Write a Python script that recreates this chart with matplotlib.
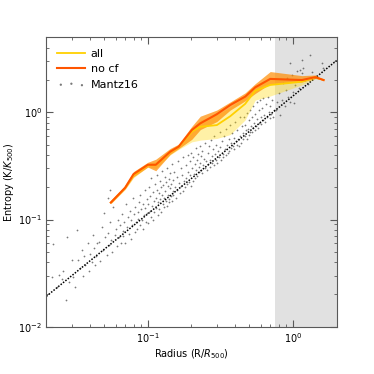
import numpy as np
import matplotlib.pyplot as plt

# binned profiles (R/R500)
r_bins = [0.0556, 0.0698, 0.0797, 0.1, 0.1135, 0.1426, 0.163, 0.201, 0.23, 0.299,
          0.37, 0.469, 0.55, 0.698, 1.153, 1.426, 1.627]

# no cool-front sample
no_cf = [0.144, 0.198, 0.265, 0.324, 0.324, 0.429, 0.478, 0.684, 0.789, 0.96,
         1.17, 1.40, 1.71, 2.05, 2.0, 2.13, 2.0]
no_cf_lo = [0.141, 0.193, 0.250, 0.308, 0.285, 0.405, 0.458, 0.56, 0.69, 0.82,
            1.05, 1.28, 1.50, 1.85, 1.92, 2.07, 2.0]
no_cf_hi = [0.147, 0.203, 0.280, 0.342, 0.365, 0.46, 0.505, 0.74, 0.92, 1.05,
            1.25, 1.52, 1.85, 2.40, 2.2, 2.23, 2.0]

# full sample
all_s = [0.144, 0.198, 0.26, 0.32, 0.324, 0.425, 0.475, 0.66, 0.733, 0.76,
         0.92, 1.20, 1.59, 1.80, 1.93, 2.13, 2.0]
all_lo = [0.14, 0.19, 0.245, 0.31, 0.30, 0.40, 0.45, 0.53, 0.55, 0.57,
          0.62, 0.85, 1.30, 1.42, 1.80, 2.06, 2.0]
all_hi = [0.148, 0.205, 0.272, 0.335, 0.345, 0.45, 0.49, 0.70, 0.85, 0.95,
          1.12, 1.40, 1.75, 2.10, 2.05, 2.18, 2.0]

# Mantz16 individual points
m_r = [0.0218, 0.0223, 0.0236, 0.0245, 0.0256, 0.0262, 0.0273, 0.0276, 0.0285, 0.0298,
       0.0305, 0.0316, 0.0324, 0.0332, 0.0340, 0.0351, 0.0358, 0.0366, 0.0372, 0.0385,
       0.0393, 0.0402, 0.0410, 0.0418, 0.0425, 0.0433, 0.0441, 0.0448,
       0.046, 0.047, 0.048, 0.049, 0.050, 0.051, 0.052, 0.053, 0.053, 0.054, 0.055, 0.055,
       0.056, 0.057, 0.058, 0.059, 0.060, 0.061, 0.062, 0.063, 0.064, 0.065, 0.066, 0.067,
       0.068, 0.069, 0.070, 0.071, 0.072, 0.073, 0.074, 0.075, 0.076, 0.077, 0.078, 0.079,
       0.080, 0.081, 0.082, 0.083, 0.084, 0.085, 0.086, 0.087, 0.088, 0.089, 0.090, 0.091,
       0.092, 0.093, 0.094, 0.095, 0.096, 0.097, 0.098, 0.099,
       0.100, 0.101, 0.102, 0.103, 0.104, 0.105, 0.106, 0.107, 0.108, 0.109, 0.110, 0.111,
       0.112, 0.113, 0.114, 0.115, 0.116, 0.117, 0.118, 0.119, 0.120, 0.121, 0.122, 0.123,
       0.124, 0.125, 0.126, 0.127, 0.128, 0.129, 0.130, 0.131, 0.132, 0.133, 0.134, 0.135,
       0.136, 0.137, 0.138, 0.139, 0.140, 0.141, 0.142, 0.143, 0.144, 0.145, 0.146, 0.147,
       0.148, 0.149, 0.150, 0.152, 0.154, 0.156, 0.158, 0.160, 0.162, 0.164, 0.166, 0.168,
       0.170, 0.172, 0.174, 0.176, 0.178, 0.180, 0.182, 0.184, 0.186, 0.188, 0.190, 0.192,
       0.194, 0.196, 0.198, 0.200,
       0.202, 0.204, 0.206, 0.208, 0.210, 0.212, 0.214, 0.216, 0.218, 0.220, 0.222, 0.224,
       0.226, 0.228, 0.230, 0.232, 0.234, 0.236, 0.238, 0.240, 0.243, 0.246, 0.249, 0.252,
       0.255, 0.258, 0.261, 0.264, 0.267, 0.270, 0.273, 0.276, 0.279, 0.282, 0.285, 0.288,
       0.291, 0.294, 0.297, 0.300, 0.304, 0.308, 0.312, 0.316, 0.320, 0.324, 0.328, 0.332,
       0.336, 0.340, 0.344, 0.348, 0.352, 0.356, 0.360, 0.364, 0.368, 0.372, 0.376, 0.380,
       0.385, 0.390, 0.395, 0.400, 0.405, 0.410, 0.415, 0.420, 0.425, 0.430, 0.435, 0.440,
       0.445, 0.450,
       0.455, 0.460, 0.465, 0.470, 0.475, 0.480, 0.485, 0.490, 0.495, 0.500, 0.505, 0.510,
       0.515, 0.520, 0.525, 0.530, 0.535, 0.540, 0.545, 0.550, 0.556, 0.562, 0.568, 0.574,
       0.580, 0.586, 0.592, 0.598, 0.604, 0.610, 0.618, 0.626, 0.634, 0.642, 0.650, 0.660,
       0.670, 0.680, 0.690, 0.700, 0.710, 0.720, 0.730, 0.740,
       0.76, 0.78, 0.80, 0.82, 0.84, 0.86, 0.88, 0.90, 0.91, 0.93, 0.95, 0.96,
       0.98, 1.00, 1.01, 1.03, 1.06, 1.10, 1.12, 1.15, 1.15, 1.18, 1.22, 1.28,
       1.32, 1.35, 1.45, 1.58, 1.62]
m_K = [0.0291, 0.0597, 0.0235, 0.0305, 0.0281, 0.0330, 0.0176, 0.0689, 0.0262, 0.0420,
       0.0290, 0.0235, 0.0795, 0.0417, 0.0350, 0.0520, 0.0300, 0.0455, 0.0380, 0.0610,
       0.0330, 0.0480, 0.0400, 0.0720, 0.0545, 0.0375, 0.0460, 0.0600,
       0.062, 0.041, 0.085, 0.052, 0.115, 0.068, 0.047, 0.075, 0.160, 0.058, 0.095, 0.188,
       0.064, 0.050, 0.130, 0.072, 0.082, 0.057, 0.100, 0.068, 0.088, 0.061, 0.112, 0.078,
       0.070, 0.094, 0.060, 0.140, 0.085, 0.105, 0.074, 0.120, 0.066, 0.098, 0.088, 0.160,
       0.112, 0.076, 0.130, 0.095, 0.082, 0.118, 0.102, 0.145, 0.088, 0.170, 0.125, 0.098,
       0.082, 0.140, 0.110, 0.190, 0.128, 0.094, 0.155, 0.115,
       0.140, 0.092, 0.200, 0.120, 0.165, 0.105, 0.245, 0.135, 0.180, 0.098, 0.150, 0.118,
       0.215, 0.160, 0.128, 0.260, 0.190, 0.110, 0.145, 0.175, 0.125, 0.230, 0.155, 0.200,
       0.118, 0.170, 0.285, 0.140, 0.210, 0.160, 0.130, 0.250, 0.185, 0.150, 0.225, 0.135,
       0.300, 0.170, 0.205, 0.155, 0.240, 0.145, 0.195, 0.270, 0.165, 0.215, 0.150, 0.330,
       0.185, 0.235, 0.168, 0.280, 0.200, 0.160, 0.250, 0.190, 0.350, 0.220, 0.175, 0.300,
       0.205, 0.260, 0.185, 0.380, 0.230, 0.200, 0.320, 0.245, 0.215, 0.400, 0.280, 0.225,
       0.350, 0.260, 0.205, 0.420,
       0.300, 0.230, 0.380, 0.265, 0.330, 0.245, 0.460, 0.290, 0.360, 0.255, 0.410, 0.310,
       0.275, 0.480, 0.340, 0.290, 0.390, 0.270, 0.440, 0.320, 0.370, 0.300, 0.520, 0.350,
       0.290, 0.420, 0.330, 0.480, 0.360, 0.310, 0.550, 0.390, 0.340, 0.450, 0.320, 0.600,
       0.410, 0.360, 0.500, 0.340, 0.440, 0.380, 0.650, 0.470, 0.360, 0.540, 0.410, 0.380,
       0.600, 0.450, 0.400, 0.700, 0.500, 0.420, 0.560, 0.440, 0.760, 0.520, 0.460, 0.640,
       0.480, 0.580, 0.450, 0.820, 0.540, 0.500, 0.680, 0.560, 0.480, 0.900, 0.600, 0.520,
       0.740, 0.560,
       0.640, 0.900, 0.600, 0.760, 0.680, 0.560, 0.980, 0.700, 0.620, 0.840, 0.660, 1.050,
       0.750, 0.650, 0.900, 0.720, 1.150, 0.800, 0.680, 0.960, 0.740, 1.250, 0.860, 0.720,
       1.050, 0.800, 1.300, 0.900, 0.780, 1.100, 0.850, 1.350, 0.950, 0.820, 1.200, 0.900,
       1.400, 1.000, 0.880, 1.150, 0.960, 1.300, 0.900, 1.050,
       1.05, 1.25, 1.50, 0.95, 1.30, 1.87, 1.15, 1.61, 2.10, 1.40, 1.25, 2.87,
       2.23, 1.55, 1.21, 1.80, 2.45, 1.70, 2.49, 2.31, 3.09, 2.58, 2.00, 1.85,
       3.43, 2.40, 2.20, 2.87, 2.60]

fig = plt.figure(figsize=(3.74, 3.74), dpi=100)
ax = fig.add_axes([0.124, 0.1265, 0.776, 0.7735])

ax.axvspan(0.755, 2.0, color='#e1e1e1', lw=0, zorder=0)

sc = ax.scatter(m_r, m_K, s=1.6, c='0.3', alpha=0.75, lw=0, label='Mantz16', zorder=1)

# baseline K = 1.42 (R/R500)^1.1
xb = np.array([0.02, 2.0])
ax.plot(xb, 1.42 * xb**1.1, color='k', ls=(0, (1, 1)), lw=1.1, zorder=2)

ax.fill_between(r_bins, all_lo, all_hi, color='gold', alpha=0.35, lw=0, zorder=3)
ax.fill_between(r_bins, no_cf_lo, no_cf_hi, color='darkorange', alpha=0.7, lw=0, zorder=4)
l_all, = ax.plot(r_bins, all_s, color='#ffd000', lw=1.3, label='all', zorder=5)
l_ncf, = ax.plot(r_bins, no_cf, color='#ff5500', lw=1.5, label='no cf', zorder=6)

ax.set_xscale('log')
ax.set_yscale('log')
ax.set_xlim(0.02, 2.0)
ax.set_ylim(0.01, 5.0)

ax.tick_params(which='both', direction='in', top=True, right=True, labelsize=7, colors='0.35',
               labelcolor='k', pad=3)
ax.tick_params(which='major', length=5)
ax.tick_params(which='minor', length=2.5)
for s in ax.spines.values():
    s.set_color('0.35')

ax.set_xlabel('Radius (R/$R_{500}$)', fontsize=7, labelpad=2)
ax.set_ylabel('Entropy (K/$K_{500}$)', fontsize=7)
ax.yaxis.set_label_coords(-0.105, 0.5)

ax.legend([l_all, l_ncf, sc], ['all', 'no cf', 'Mantz16'], loc='upper left',
          frameon=False, fontsize=8, scatterpoints=3, handlelength=2.5, markerscale=1.3,
          borderaxespad=0.6, handletextpad=0.5)

plt.savefig('out.png', dpi=100)
